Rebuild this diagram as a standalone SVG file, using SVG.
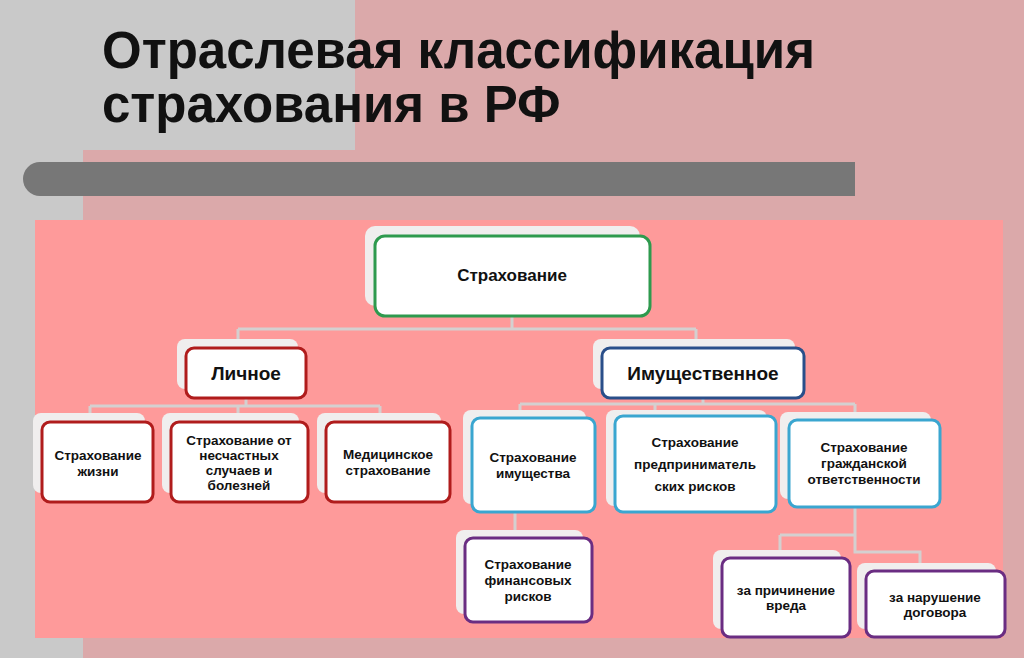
<svg xmlns="http://www.w3.org/2000/svg" width="1024" height="658" viewBox="0 0 1024 658">
<style>
text{font-family:"Liberation Sans",Arial,sans-serif;font-weight:bold;fill:#111;text-anchor:middle}
.g{fill:#f0eeee;stroke:none}
.b{fill:#fff;stroke-width:3}
.r{stroke:#b01c1c}.bl{stroke:#3aa6d0}.p{stroke:#6a2d82}
.s{font-size:13.5px}
.c{fill:none;stroke:#d4d0d0;stroke-width:3}
</style>
<rect width="1024" height="658" fill="#dba9aa"/>
<rect x="0" y="0" width="355" height="150" fill="#c9c9c9"/>
<rect x="0" y="0" width="83" height="658" fill="#c9c9c9"/>
<text x="102" y="68" style="font-size:51px;text-anchor:start">Отраслевая классификация</text>
<text x="102" y="122" style="font-size:51px;text-anchor:start">страхования в РФ</text>
<path d="M40 162H855V196H40A17 17 0 0 1 40 162Z" fill="#777"/>
<rect x="35" y="220" width="968" height="418" fill="#fe9a9a"/>
<g id="connectors" class="c">
<path d="M512 316V329M238 329H696M238 329V339M696 329V339"/>
<path d="M246 398V406M90 406H380M90 406V413M238 406V413M380 406V413"/>
<path d="M703 398V404M520 404H855M520 404V410M655 404V410M855 404V412"/>
<path d="M515 512V530"/>
<path d="M855 507V535M780 535H855M780 535V550M855 535V552H920V563"/>
</g>
<g id="n0"><rect class="g" x="365" y="226" width="275" height="80" rx="10"/><rect class="b" x="375" y="236" width="275" height="80" rx="10" stroke="#2e9a4e"/><text x="512" y="281" style="font-size:17px">Страхование</text></g>
<g id="n1"><rect class="g" x="177" y="339" width="121" height="50" rx="8"/><rect class="b r" x="186" y="348" width="120" height="50" rx="8"/><text x="246" y="380" style="font-size:19px">Личное</text></g>
<g id="n2"><rect class="g" x="593" y="339" width="202" height="50" rx="8"/><rect class="b" x="602" y="348" width="202" height="50" rx="8" stroke="#2a4f8a"/><text x="703" y="380" style="font-size:19px">Имущественное</text></g>
<g id="n3"><rect class="g" x="33" y="413" width="112" height="80" rx="8"/><rect class="b r" x="42" y="422" width="111" height="80" rx="8"/><text class="s" x="98" y="460">Страхование<tspan x="98" dy="16">жизни</tspan></text></g>
<g id="n4"><rect class="g" x="162" y="413" width="137" height="80" rx="8"/><rect class="b r" x="171" y="422" width="137" height="80" rx="8"/><text class="s" x="239" y="445">Страхование от<tspan x="239" dy="15">несчастных</tspan><tspan x="239" dy="15">случаев и</tspan><tspan x="239" dy="15">болезней</tspan></text></g>
<g id="n5"><rect class="g" x="317" y="413" width="124" height="80" rx="8"/><rect class="b r" x="326" y="422" width="124" height="80" rx="8"/><text class="s" x="388" y="459">Медицинское<tspan x="388" dy="16">страхование</tspan></text></g>
<g id="n6"><rect class="g" x="463" y="410" width="123" height="94" rx="8"/><rect class="b bl" x="472" y="418" width="123" height="94" rx="8"/><text class="s" x="533" y="462">Страхование<tspan x="533" dy="16">имущества</tspan></text></g>
<g id="n7"><rect class="g" x="606" y="410" width="161" height="96" rx="8"/><rect class="b bl" x="615" y="416" width="161" height="96" rx="8"/><text class="s" x="695" y="447">Страхование<tspan x="695" dy="22">предприниматель</tspan><tspan x="695" dy="22">ских рисков</tspan></text></g>
<g id="n8"><rect class="g" x="780" y="412" width="151" height="87" rx="8"/><rect class="b bl" x="789" y="420" width="151" height="87" rx="8"/><text class="s" x="864" y="452">Страхование<tspan x="864" dy="16">гражданской</tspan><tspan x="864" dy="16">ответственности</tspan></text></g>
<g id="n9"><rect class="g" x="456" y="530" width="127" height="84" rx="8"/><rect class="b p" x="465" y="538" width="127" height="84" rx="8"/><text class="s" x="528" y="569">Страхование<tspan x="528" dy="16">финансовых</tspan><tspan x="528" dy="16">рисков</tspan></text></g>
<g id="n10"><rect class="g" x="713" y="550" width="128" height="79" rx="8"/><rect class="b p" x="722" y="558" width="128" height="79" rx="8"/><text class="s" x="786" y="595">за причинение<tspan x="786" dy="15">вреда</tspan></text></g>
<g id="n11"><rect class="g" x="857" y="563" width="139" height="66" rx="8"/><rect class="b p" x="866" y="571" width="139" height="66" rx="8"/><text class="s" x="935" y="602">за нарушение<tspan x="935" dy="15">договора</tspan></text></g>
</svg>
